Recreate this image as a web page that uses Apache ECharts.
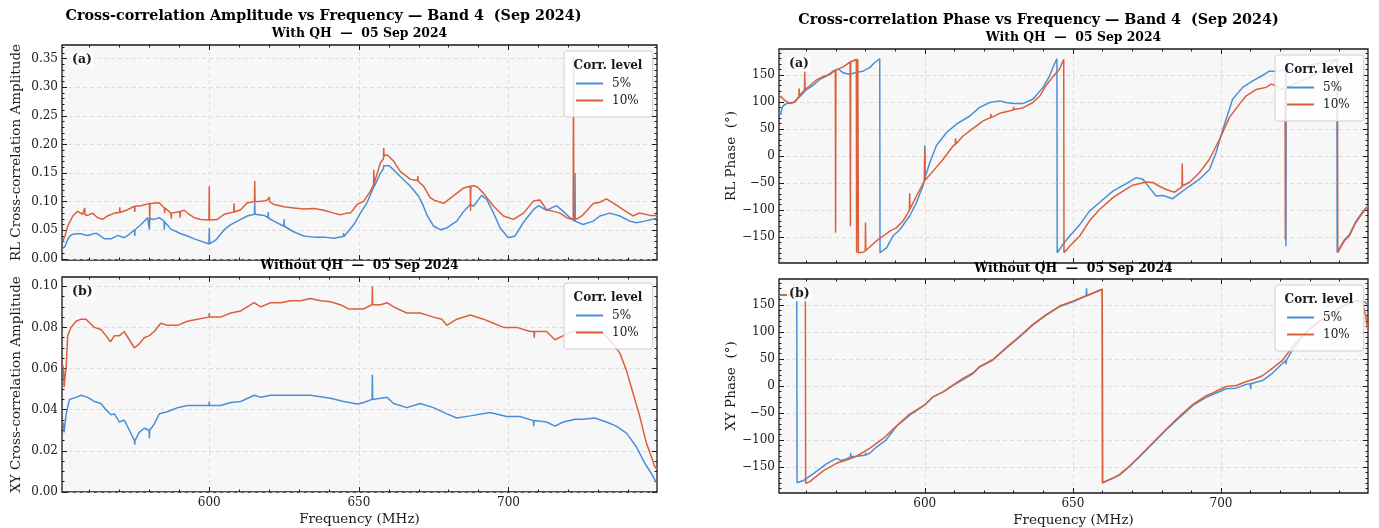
<!DOCTYPE html>
<html><head><meta charset="utf-8">
<script src="https://cdn.jsdelivr.net/npm/echarts@6/dist/echarts.min.js"></script>
<style>html,body{margin:0;padding:0;background:#fff}#c{width:1379px;height:528px}</style>
</head><body><div id="c"></div>
<script>
// ---------------- DATA ----------------
const legendNames = ['5%', '10%'];
const xMajorTicks = [600, 650, 700];
const xMinorTicks = [560,570,580,590,610,620,630,640,660,670,680,690,710,720,730,740];
const ampQHTicks = [0, 0.05, 0.10, 0.15, 0.20, 0.25, 0.30, 0.35];
const ampQHMinor = [0.01,0.02,0.03,0.04,0.06,0.07,0.08,0.09,0.11,0.12,0.13,0.14,0.16,0.17,0.18,0.19,0.21,0.22,0.23,0.24,0.26,0.27,0.28,0.29,0.31,0.32,0.33,0.34,0.36,0.37];
const ampNoQHTicks = [0, 0.02, 0.04, 0.06, 0.08, 0.10];
const ampNoQHMinor = [0.005,0.01,0.015,0.025,0.03,0.035,0.045,0.05,0.055,0.065,0.07,0.075,0.085,0.09,0.095];
const phaseTicks = [-150, -100, -50, 0, 50, 100, 150];
const phaseMinor = [-190,-180,-170,-160,-140,-130,-120,-110,-90,-80,-70,-60,-40,-30,-20,-10,10,20,30,40,60,70,80,90,110,120,130,140,160,170,180,190];

// RL amplitude, with QH  [MHz, amplitude]
const ampQH5 = [[551.0,0.018],[551.3,0.016],[551.8,0.022],[552.7,0.034],[553.5,0.040],[554.4,0.043],[556,0.044],[557.2,0.044],[558.3,0.042],[559.4,0.041],[560.8,0.043],[562.2,0.045],[563.6,0.040],[565,0.035],[567.2,0.035],[569.4,0.041],[571.6,0.037],[573.3,0.043],[575,0.051],[575.1,0.040],[575.2,0.051],[577.2,0.060],[579.4,0.072],[579.9,0.071],[580.0,0.051],[580.1,0.071],[581.6,0.069],[583.3,0.072],[584.9,0.066],[585.0,0.051],[585.1,0.065],[587.2,0.052],[590.5,0.044],[592.7,0.040],[595,0.035],[597.2,0.031],[599.9,0.026],[600,0.054],[600.1,0.026],[602.2,0.033],[605,0.051],[607.2,0.060],[609.4,0.066],[612.7,0.075],[615.1,0.078],[615.2,0.098],[615.3,0.078],[618.3,0.076],[619.6,0.072],[619.7,0.082],[619.8,0.071],[621.6,0.066],[624.9,0.057],[625,0.069],[625.1,0.057],[628.3,0.047],[631.6,0.040],[635,0.038],[638.3,0.038],[641.6,0.036],[644.8,0.039],[644.9,0.045],[645,0.039],[648.3,0.060],[650.5,0.080],[652.7,0.098],[654.9,0.125],[655,0.138],[655.1,0.126],[657.2,0.150],[658.2,0.158],[658.3,0.163],[660,0.163],[661.6,0.156],[663.8,0.144],[667.2,0.127],[670,0.109],[671.5,0.093],[672.7,0.077],[675,0.057],[677.2,0.051],[679.4,0.054],[682.7,0.066],[685,0.083],[687.2,0.095],[688.3,0.092],[691,0.111],[692.7,0.104],[695,0.080],[697.2,0.054],[699.9,0.037],[702.2,0.040],[705,0.064],[708.3,0.086],[710,0.093],[712.7,0.085],[716,0.093],[718.3,0.083],[720.5,0.072],[722.1,0.066],[722.2,0.150],[722.3,0.066],[724.9,0.060],[728.3,0.066],[730.5,0.075],[733.8,0.080],[737.2,0.075],[740.5,0.066],[742.7,0.063],[745.5,0.066],[748.8,0.070],[749.6,0.071]];
const ampQH10 = [[551.0,0.030],[551.3,0.028],[551.8,0.040],[552.7,0.057],[554.4,0.075],[556,0.083],[557.7,0.078],[558.3,0.080],[558.4,0.089],[558.5,0.077],[559.4,0.076],[561,0.080],[562.7,0.072],[564.4,0.069],[566,0.075],[568.3,0.080],[570,0.081],[570.1,0.090],[570.2,0.081],[572.7,0.086],[575,0.092],[575.1,0.082],[575.2,0.092],[577.2,0.093],[580,0.097],[580.1,0.066],[580.2,0.097],[583.3,0.098],[585,0.089],[585.1,0.080],[585.2,0.089],[587.2,0.080],[587.3,0.070],[587.4,0.080],[589.4,0.082],[590.2,0.083],[590.3,0.072],[590.4,0.083],[591.6,0.085],[593.3,0.078],[595,0.072],[597.2,0.069],[599.9,0.068],[600,0.127],[600.1,0.068],[602.7,0.069],[605,0.078],[608.2,0.082],[608.3,0.097],[608.4,0.082],[610.5,0.086],[612.7,0.098],[615.1,0.100],[615.2,0.136],[615.3,0.100],[618.3,0.101],[619.4,0.103],[620,0.102],[620.1,0.108],[620.2,0.100],[621.6,0.095],[625,0.091],[628.3,0.089],[631.6,0.087],[635,0.088],[638.3,0.085],[641.6,0.080],[643.8,0.077],[646,0.080],[647.2,0.080],[649.4,0.095],[651.6,0.101],[653.8,0.118],[654.9,0.130],[655,0.156],[655.1,0.132],[657.2,0.168],[658.2,0.175],[658.3,0.194],[658.4,0.180],[659.4,0.182],[661.6,0.171],[663.8,0.153],[667.2,0.139],[669.6,0.137],[669.7,0.145],[669.8,0.136],[671.6,0.127],[673.8,0.107],[675,0.103],[678.3,0.097],[681.6,0.110],[685,0.124],[687.2,0.127],[687.3,0.084],[687.4,0.127],[688.3,0.128],[689.5,0.126],[691.6,0.115],[695,0.092],[698.3,0.075],[701.6,0.069],[705,0.080],[708.3,0.101],[710.5,0.103],[712.7,0.086],[715,0.083],[717.2,0.080],[719.4,0.072],[721.6,0.069],[721.7,0.357],[721.8,0.069],[723,0.070],[724.9,0.077],[728.3,0.097],[730.5,0.099],[732.7,0.105],[734.9,0.098],[738.3,0.086],[741.6,0.075],[743.5,0.080],[745,0.079],[747.2,0.076],[749.6,0.076]];

// XY amplitude, without QH
const ampNoQH5 = [[551.0,0.034],[551.3,0.033],[551.5,0.029],[551.8,0.033],[552.2,0.038],[553.3,0.045],[555.5,0.046],[557.2,0.047],[559.4,0.046],[561.6,0.044],[563.8,0.043],[565.5,0.040],[567.2,0.0375],[568.3,0.038],[570,0.034],[571.6,0.035],[573.3,0.030],[575,0.025],[575.1,0.023],[575.2,0.025],[576.6,0.029],[578.3,0.031],[579.9,0.030],[580,0.026],[580.1,0.030],[581.6,0.033],[583.3,0.038],[586,0.039],[589.4,0.041],[592.7,0.042],[596,0.042],[599.9,0.042],[600,0.044],[600.1,0.042],[603.8,0.042],[607.2,0.0435],[610.5,0.044],[615,0.047],[617.2,0.046],[620.5,0.047],[627.2,0.047],[633.8,0.047],[640.5,0.0456],[644.9,0.044],[649.4,0.0428],[651.6,0.0435],[654.4,0.045],[654.5,0.057],[654.6,0.045],[657.2,0.0456],[659.4,0.046],[661.6,0.043],[666,0.041],[670.5,0.043],[674.9,0.041],[679.4,0.038],[682.7,0.036],[687.2,0.037],[693.8,0.0386],[699.4,0.0367],[703.8,0.0367],[708.3,0.0347],[708.4,0.032],[708.5,0.0347],[712.7,0.034],[715.5,0.032],[718.3,0.034],[722.2,0.0354],[725,0.0354],[728.8,0.036],[732.7,0.034],[736,0.032],[739.4,0.0286],[742.7,0.022],[745.5,0.014],[747.7,0.009],[749.2,0.005],[749.6,0.0045]];
const ampNoQH10 = [[551.0,0.062],[551.3,0.060],[551.5,0.051],[551.8,0.056],[552.2,0.061],[552.7,0.076],[553.8,0.080],[555.5,0.083],[557.2,0.084],[558.8,0.084],[561.6,0.080],[563.8,0.079],[565.5,0.076],[567,0.073],[568.3,0.076],[570,0.076],[571.6,0.078],[573.3,0.074],[575,0.070],[576.6,0.072],[578.3,0.075],[580,0.076],[581.6,0.078],[583.8,0.082],[586,0.081],[589.4,0.081],[592.7,0.083],[596,0.084],[599.9,0.085],[600,0.087],[600.1,0.085],[603.8,0.085],[607.2,0.087],[610.5,0.088],[612.7,0.090],[615,0.092],[617.2,0.090],[620.5,0.092],[623.8,0.092],[627.2,0.093],[630.5,0.093],[633.8,0.094],[637.2,0.093],[640.5,0.0925],[643.8,0.091],[646.6,0.089],[649.4,0.089],[651.6,0.089],[654.4,0.091],[654.5,0.100],[654.6,0.091],[657.2,0.091],[659.4,0.092],[661.6,0.090],[666,0.087],[670.5,0.087],[674.9,0.085],[677.7,0.084],[679.4,0.081],[682.7,0.084],[687.2,0.086],[691.6,0.084],[695,0.082],[698.3,0.080],[702.7,0.080],[707.2,0.078],[708.5,0.078],[708.6,0.075],[708.7,0.078],[712.7,0.078],[715.5,0.074],[718.3,0.076],[721.6,0.078],[727.2,0.078],[731.6,0.077],[733.8,0.074],[737.2,0.0675],[739.4,0.059],[741.6,0.048],[743.8,0.037],[746,0.024],[747.7,0.0173],[748.8,0.0125],[749.6,0.011]];

// RL phase, with QH  [MHz, degrees]
const phaseQH5 = [[550.9,80],[551.3,76],[551.8,88],[552.2,93],[553.4,97],[555.6,99],[557.9,110],[560.1,123],[562.4,131],[564.6,142],[566.8,148],[569.1,157],[570.8,161],[572.5,154],[574.7,151],[577,155],[579.2,157],[581.5,164],[583.1,173],[584.8,180],[584.9,-179],[587.1,-170],[589.3,-148],[591.6,-136],[594.9,-111],[597.2,-86],[599.4,-55],[599.9,-45],[600,20],[600.1,-40],[601.7,-12],[603.9,19],[607.3,43],[610.7,59],[615.2,74],[618.5,90],[621.9,99],[625.3,102],[627.5,99],[629.8,97],[633.1,97],[636.5,105],[639.9,127],[642.1,148],[643.5,167],[644.6,180],[644.7,-179],[646.6,-164],[648.9,-148],[652.3,-127],[655.6,-102],[659,-86],[663.5,-65],[668,-51],[671.4,-40],[673.6,-43],[675.9,-59],[678.1,-74],[680.4,-73],[683.7,-79],[686,-69],[689.3,-56],[692.7,-43],[696.1,-25],[698.3,6],[700.6,49],[703.9,105],[707.3,127],[710.7,139],[714,149],[716.3,157],[718,157],[720,158],[721.8,158],[721.9,-167],[722,158],[725,163],[730,168],[735,174],[739.1,179],[739.2,-178],[741.6,-155],[743.3,-146],[745.5,-121],[747.8,-103],[749.6,-92]];
const phaseQH10 = [[550.9,112],[551.1,111],[552.8,103],[554.5,97],[556.2,100],[557.5,110],[557.6,125],[557.7,112],[559.4,122],[559.5,157],[559.6,123],[561.2,130],[563.5,141],[565.7,147],[568,151],[569.8,159],[569.9,-142],[570,159],[572.5,165],[574.8,174],[574.9,-130],[575,174],[576.9,179],[577,-179],[577.3,-178],[577.4,179],[577.6,-179],[579.2,-178],[579.9,-176],[580,-123],[580.1,-175],[581.5,-168],[583.7,-157],[586,-148],[588.2,-139],[590.4,-133],[592.7,-120],[594.8,-101],[594.9,-69],[595,-98],[597.2,-74],[599.9,-46],[600,12],[600.1,-45],[602.8,-28],[606.2,-6],[609.6,19],[610.3,21],[610.4,33],[610.5,22],[612.9,37],[616.3,51],[619.7,65],[622.2,71],[622.3,78],[622.4,71],[625.3,79],[629.9,85],[630,91],[630.1,86],[633.1,89],[636.5,99],[638.8,111],[641,131],[643.3,147],[645.5,161],[646.9,179],[647,-179],[648.9,-167],[652.3,-148],[655.6,-120],[659,-99],[663.5,-77],[666.9,-65],[670.2,-54],[674.7,-48],[677,-49],[679.2,-56],[681.5,-62],[684.3,-67],[686.8,-57],[686.9,-14],[687,-55],[689.3,-49],[692.7,-31],[696.1,-6],[699.5,31],[702.8,71],[706.2,96],[708.4,111],[711.8,123],[715.2,127],[716.9,133],[718.6,130],[720.3,123],[721.6,126],[721.7,-154],[721.8,126],[725,134],[730,146],[735,162],[739.3,179],[739.4,-179],[741.6,-157],[743.3,-148],[745.5,-123],[747.8,-105],[749.6,-93]];

// XY phase, without QH
const phaseNoQH5 = [[550.9,168],[552,169],[555,168],[556.8,168],[556.9,-179],[559,-175],[562.4,-162],[566.8,-144],[570.2,-134],[571.9,-138],[573.6,-135],[574.9,-131],[575,-124],[575.1,-131],[577,-130],[579.9,-128],[580,-123],[580.1,-128],[581.5,-124],[583.7,-113],[586.9,-100],[590.4,-75],[594.9,-54],[600,-35],[602.8,-20],[606.2,-11],[609.6,1],[612.9,12],[616.3,23],[618.5,35],[623,48],[627.5,70],[632,91],[636.5,113],[641,131],[645.5,147],[650,156],[654.5,167],[654.6,181],[654.7,167],[659.9,179],[660,-179],[663.5,-171],[665.7,-165],[669.1,-149],[672.5,-131],[677,-106],[681.5,-81],[686,-58],[690.5,-36],[695,-21],[697.2,-16],[701.7,-5],[705.1,-4],[708.4,3],[709.9,4],[710,-6],[710.1,4],[711.8,7],[714,10],[717.4,24],[720.8,42],[721.9,47],[722,40],[722.1,48],[724.2,68],[727.6,92],[730.9,110],[735.4,128],[739.9,144],[744.4,156],[746.5,158],[748.5,156],[749.6,150]];
const phaseNoQH10 = [[550.9,168],[555,169],[559.7,170],[559.8,-180],[561.2,-177],[565.7,-157],[570.2,-143],[573.6,-137],[577,-130],[581.5,-115],[586,-97],[590.4,-74],[594.9,-52],[600,-35],[602.8,-20],[606.2,-11],[609.6,2],[612.9,14],[616.3,24],[618.5,36],[623,49],[627.5,71],[632,92],[636.5,114],[641,132],[645.5,148],[650,157],[654.5,167],[659.9,179],[660,-179],[663.5,-170],[665.7,-164],[669.1,-148],[672.5,-130],[677,-105],[681.5,-80],[686,-56],[690.5,-34],[695,-18],[697.2,-13],[701.7,-1],[705.1,1],[708.4,8],[711.8,14],[714,19],[717.4,33],[720.8,48],[724.2,73],[727.6,94],[730.9,110],[735.4,128],[739.9,144],[744.4,156],[746.5,158],[747.8,153],[748.8,130],[749.6,100]];

// ---------------- CHART ----------------
const FONT = 'DejaVu Serif';
const C5 = '#4a8fd6', C10 = '#d9603b';
const INK = '#1a1a1a';
const X_MIN = 550.8, X_MAX = 749.6;
const fmtAmp = v => v.toFixed(2);
const fmtPh = v => String(Math.round(v)).replace('-', '\u2212');

const panels = [
  {left:62, top:45, width:595, height:215, yMin:-0.002, yMax:0.374, ySplit:7, yMajor:ampQHTicks, yMinor:ampQHMinor, fmt:fmtAmp, yName:'RL Cross-correlation Amplitude', yGap:39, xLab:false, s5:ampQH5, s10:ampQH10, tag:'(a)'},
  {left:62, top:277, width:595, height:215, yMin:0, yMax:0.1045, ySplit:5, yMajor:ampNoQHTicks, yMinor:ampNoQHMinor, fmt:fmtAmp, yName:'XY Cross-correlation Amplitude', yGap:39, xLab:true, s5:ampNoQH5, s10:ampNoQH10, tag:'(b)'},
  {left:779, top:49, width:589, height:214, yMin:-198, yMax:198, ySplit:8, yMajor:phaseTicks, yMinor:phaseMinor, fmt:fmtPh, yName:'RL Phase  (\u00b0)', yGap:36, xLab:false, s5:phaseQH5, s10:phaseQH10, tag:'(a)'},
  {left:779, top:279, width:589, height:214, yMin:-198, yMax:198, ySplit:8, yMajor:phaseTicks, yMinor:phaseMinor, fmt:fmtPh, yName:'XY Phase  (\u00b0)', yGap:36, xLab:true, s5:phaseNoQH5, s10:phaseNoQH10, tag:'(b)'}
];

const grid = [], xAxis = [], yAxis = [], series = [], legend = [], graphic = [];
const gridLine = {show:true, lineStyle:{color:'#d6d6d6', width:0.8, type:[4,3]}};
const tickStyle = {color:INK, width:1};

panels.forEach((p, g) => {
  grid.push({left:p.left, top:p.top, width:p.width, height:p.height, show:true,
    backgroundColor:'#f7f7f7', borderColor:INK, borderWidth:1.3});
  const xb = {type:'value', gridIndex:g, min:X_MIN, max:X_MAX, splitNumber:4,
    axisLine:{show:false, onZero:false}, splitLine:{show:false}, axisLabel:{show:false}};
  xAxis.push(
    Object.assign({}, xb, {position:'bottom',
      axisTick:{show:true, inside:true, length:5, lineStyle:tickStyle, customValues:xMajorTicks},
      axisLabel:{show:p.xLab, customValues:xMajorTicks, margin:5, fontFamily:FONT, fontSize:12, color:INK},
      splitLine:gridLine,
      name:p.xLab ? 'Frequency (MHz)' : '', nameLocation:'middle', nameGap:20,
      nameTextStyle:{fontFamily:FONT, fontSize:13.5, color:INK}}),
    Object.assign({}, xb, {position:'top',
      axisTick:{show:true, inside:true, length:5, lineStyle:tickStyle, customValues:xMajorTicks}}),
    Object.assign({}, xb, {position:'bottom',
      axisTick:{show:true, inside:true, length:2.5, lineStyle:tickStyle, customValues:xMinorTicks}}),
    Object.assign({}, xb, {position:'top',
      axisTick:{show:true, inside:true, length:2.5, lineStyle:tickStyle, customValues:xMinorTicks}})
  );
  const yb = {type:'value', gridIndex:g, min:p.yMin, max:p.yMax, splitNumber:p.ySplit,
    axisLine:{show:false, onZero:false}, splitLine:{show:false}, axisLabel:{show:false}};
  yAxis.push(
    Object.assign({}, yb, {position:'left',
      axisTick:{show:true, inside:true, length:5, lineStyle:tickStyle, customValues:p.yMajor},
      axisLabel:{show:true, customValues:p.yMajor, formatter:p.fmt, margin:4, fontFamily:FONT, fontSize:12, color:INK},
      splitLine:gridLine,
      name:p.yName, nameLocation:'middle', nameGap:p.yGap,
      nameTextStyle:{fontFamily:FONT, fontSize:13.5, color:INK}}),
    Object.assign({}, yb, {position:'right',
      axisTick:{show:true, inside:true, length:5, lineStyle:tickStyle, customValues:p.yMajor}}),
    Object.assign({}, yb, {position:'left',
      axisTick:{show:true, inside:true, length:2.5, lineStyle:tickStyle, customValues:p.yMinor}}),
    Object.assign({}, yb, {position:'right',
      axisTick:{show:true, inside:true, length:2.5, lineStyle:tickStyle, customValues:p.yMinor}})
  );
  [[p.s5, legendNames[0], C5], [p.s10, legendNames[1], C10]].forEach(([d, n, c]) => {
    series.push({type:'line', name:n, xAxisIndex:4*g, yAxisIndex:4*g, data:d,
      showSymbol:false, symbol:'none', animation:false, clip:true,
      lineStyle:{color:c, width:1.5}, itemStyle:{color:c}});
  });
  const lgLeft = p.left + p.width - 93, lgTop = p.top + 6;
  legend.push({left:lgLeft, top:lgTop, orient:'vertical', data:legendNames, icon:'rect',
    itemWidth:27, itemHeight:2, itemGap:2, padding:[25,14,9,12], selectedMode:false,
    backgroundColor:'rgba(255,255,255,0.82)', borderColor:'#cfcfcf', borderWidth:1, borderRadius:3,
    textStyle:{fontFamily:FONT, fontSize:12, color:INK, lineHeight:15, padding:[0,0,0,4]}});
  graphic.push({type:'text', z:100, style:{text:'Corr. level', x:lgLeft + 44, y:lgTop + 15,
    align:'center', verticalAlign:'middle', font:'bold 12px "DejaVu Serif"', fill:INK}});
  graphic.push({type:'text', z:100, style:{text:p.tag, x:p.left + 8, y:p.top + 15,
    align:'left', verticalAlign:'middle', font:'bold 12.5px "DejaVu Serif"', fill:INK,
    backgroundColor:'rgba(255,255,255,0.85)', padding:[1,2,1,2]}});
});

const titles = [
  ['Cross-correlation Amplitude vs Frequency \u2014 Band 4  (Sep 2024)', 323.5, 16, 14.3],
  ['With QH  \u2014  05 Sep 2024', 359.5, 34, 12.4],
  ['Without QH  \u2014  05 Sep 2024', 359.5, 266, 12.4],
  ['Cross-correlation Phase vs Frequency \u2014 Band 4  (Sep 2024)', 1038.5, 20, 14.3],
  ['With QH  \u2014  05 Sep 2024', 1073.5, 38, 12.4],
  ['Without QH  \u2014  05 Sep 2024', 1073.5, 269, 12.4]
];
titles.forEach(([t, x, y, s]) => graphic.push({type:'text', z:100,
  style:{text:t, x:x, y:y, align:'center', verticalAlign:'middle', font:'bold ' + s + 'px "DejaVu Serif"', fill:'#000'}}));

const chart = echarts.init(document.getElementById('c'), null, {renderer:'canvas'});
chart.setOption({animation:false, backgroundColor:'#fff', grid, xAxis, yAxis, series, legend, graphic});
</script></body></html>
